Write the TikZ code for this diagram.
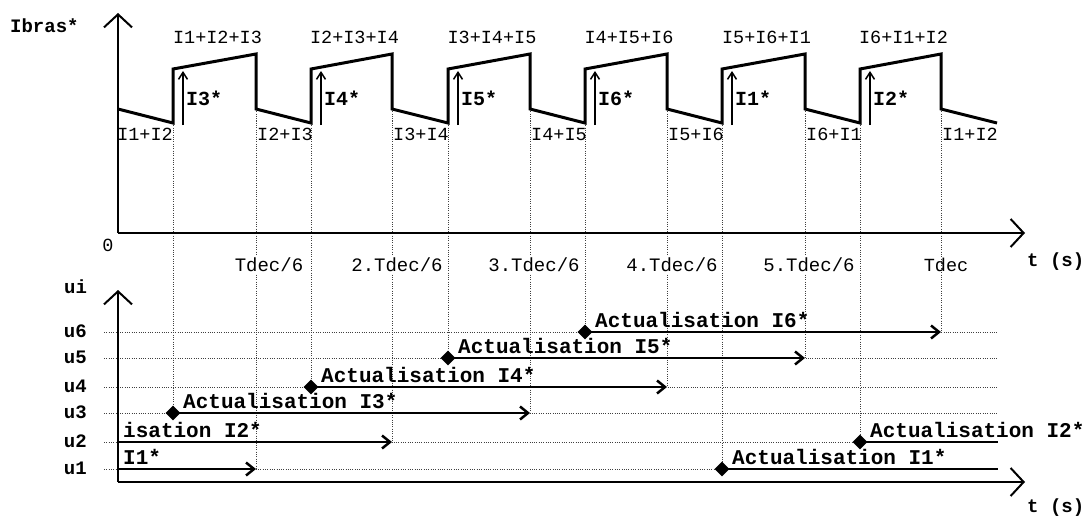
\documentclass[tikz,border=0pt]{standalone}
\usepackage{fontspec}
\usetikzlibrary{arrows.meta,shapes.geometric}
\newfontfamily\cour{Liberation Mono}
\begin{document}
\begin{tikzpicture}[x=1pt,y=-1pt,
  axis/.style={line width=2pt,-{Straight Barb[length=13pt,width=28pt,line width=2pt]}},
  wave/.style={line width=3pt,line join=miter},
  grid/.style={line width=0.9pt,dash pattern=on 1pt off 1.3pt,black!75},
  arr/.style={line width=2.8pt,-{Straight Barb[length=8pt,width=13pt,line width=2.5pt]}},
  bar/.style={line width=2.8pt},
  thinarr/.style={line width=1.5pt,-{Straight Barb[length=7pt,width=9pt,line width=1.5pt]}},
  lab/.style={font=\cour\fontsize{18.5}{20}\selectfont,inner sep=0pt},
  tlab/.style={font=\cour\fontsize{19}{20}\selectfont,inner sep=1.5pt,fill=white},
  slab/.style={font=\cour\bfseries\fontsize{20}{22}\selectfont,inner sep=0pt},
  blab/.style={font=\cour\bfseries\fontsize{21}{22}\selectfont,inner sep=0pt},
  alab/.style={font=\cour\bfseries\fontsize{19}{20}\selectfont,inner sep=0pt},
  dia/.style={diamond,fill=black,inner sep=0pt,minimum size=15pt}
]
\fill[white] (0,0) rectangle (1088,519);
\useasboundingbox (0,0) rectangle (1088,519);

% ---------- grid (dotted) ----------
\foreach \y in {332,358,387,413,442,469}
  \draw[grid] (104,\y) -- (998,\y);
% rising edges -> levels
\foreach \x/\y in {173/413,311/387,448/358,585/332,722/469,860/442}
  \draw[grid] (\x,123) -- (\x,\y);
% falling edges -> levels
\foreach \x/\y in {256/469,392/442,530/413,667/387,805/358,941/332}
  \draw[grid] (\x,109) -- (\x,\y);

% ---------- top axes ----------
\coordinate (O1) at (118,233);
\coordinate (Y1) at (118,13);
\coordinate (X1) at (1025,233);
\draw[axis] (O1) -- (Y1);
\draw[axis] (O1) -- (X1);
\node[alab,anchor=base west] (ibras) at (10,33) {Ibras*};
\node[lab,anchor=base] (zero) at (108,251) {0};
\node[alab,anchor=base west] (ts1) at (1027,266) {t (s)};

% time labels
\node[tlab,anchor=base] (t1) at (269,271) {Tdec/6};
\node[tlab,anchor=base] (t2) at (397,271) {2.Tdec/6};
\node[tlab,anchor=base] (t3) at (534,271) {3.Tdec/6};
\node[tlab,anchor=base] (t4) at (672,271) {4.Tdec/6};
\node[tlab,anchor=base] (t5) at (809,271) {5.Tdec/6};
\node[lab,anchor=base] (t6) at (946,271) {Tdec};

% ---------- waveform ----------
\draw[wave] (118,109) -- (173,123) -- (173,69) -- (256,54) -- (256,109)
  -- (311,123) -- (311,69) -- (392,54) -- (392,109)
  -- (448,123) -- (448,69) -- (530,54) -- (530,109)
  -- (585,123) -- (585,69) -- (667,54) -- (667,109)
  -- (722,123) -- (722,69) -- (805,54) -- (805,109)
  -- (860,123) -- (860,69) -- (941,54) -- (941,109)
  -- (997,123);

\foreach \r/\f/\tp/\st in {173/256/{I1+I2+I3}/I3,311/392/{I2+I3+I4}/I4,
   448/530/{I3+I4+I5}/I5,585/667/{I4+I5+I6}/I6,722/805/{I5+I6+I1}/I1,860/941/{I6+I1+I2}/I2}{
  \node[lab,anchor=base] at ({(\r+\f)/2+3},44) {\tp};
  \draw[thinarr] (\r+10,125) -- (\r+10,71);
  \node[slab,anchor=base west] at (\r+13,106) {\st*};
}
\node[lab,anchor=base east] (l0) at (173,140) {I1+I2};
\foreach \f/\t in {256/{I2+I3},392/{I3+I4},530/{I4+I5},667/{I5+I6},805/{I6+I1},941/{I1+I2}}
  \node[lab,anchor=base west] at (\f+1,140) {\t};

% ---------- bottom axes ----------
\coordinate (O2) at (118,482);
\coordinate (Y2) at (118,290);
\coordinate (X2) at (1025,482);
\draw[axis] (O2) -- (Y2);
\draw[axis] (O2) -- (X2);
\node[alab,anchor=base west] (ui) at (64,293) {ui};
\node[alab,anchor=base west] (ts2) at (1027,512) {t (s)};
\foreach \y/\u in {332/u6,358/u5,387/u4,413/u3,442/u2,469/u1}
  \node[alab,anchor=base east] at (87,\y+5) {\u};

% ---------- update arrows ----------
\coordinate (a1s) at (118,469); \coordinate (a1e) at (256,469);
\coordinate (a2s) at (118,442); \coordinate (a2e) at (392,442);
\draw[arr] (a1s) -- (a1e);
\draw[arr] (a2s) -- (a2e);
\node[blab,anchor=base west] at (123,464) {I1*};
\node[blab,anchor=base west] at (123,437) {isation I2*};

\foreach \xs/\xe/\y/\n in {173/530/413/3,311/667/387/4,448/805/358/5,585/941/332/6}{
  \node[dia] (d\n) at (\xs,\y) {};
  \coordinate (e\n) at (\xe,\y);
  \draw[arr] (d\n.center) -- (e\n);
  \node[blab,anchor=base west] at (\xs+10,\y-5) {Actualisation I\n*};
}
\node[dia] (d1) at (722,469) {};
\coordinate (e1) at (998,469);
\draw[bar] (d1.center) -- (e1);
\node[blab,anchor=base west] at (732,464) {Actualisation I1*};
\node[dia] (d2) at (860,442) {};
\coordinate (e2) at (998,442);
\draw[bar] (d2.center) -- (e2);
\node[blab,anchor=base west] at (870,437) {Actualisation I2*};
\end{tikzpicture}
\end{document}
